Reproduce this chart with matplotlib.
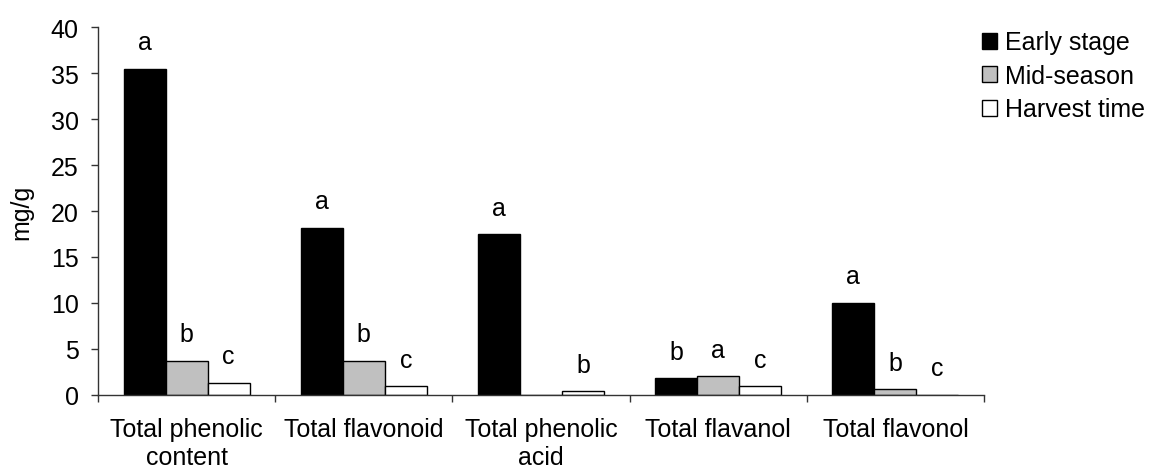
import matplotlib
matplotlib.use('Agg')
import matplotlib.pyplot as plt
from matplotlib.patches import Patch
import numpy as np

plt.rcParams['font.family'] = ['Liberation Sans', 'DejaVu Sans']

# data
categories = ['Total phenolic\ncontent', 'Total flavonoid', 'Total phenolic\nacid',
              'Total flavanol', 'Total flavonol']
series = ['Early stage', 'Mid-season', 'Harvest time']
early = [35.5, 18.2, 17.5, 1.8, 10.0]
mid = [3.7, 3.7, 0.0, 2.0, 0.6]
harvest = [1.3, 0.9, 0.4, 0.9, 0.0]
letters_early = ['a', 'a', 'a', 'b', 'a']
letters_mid = ['b', 'b', '', 'a', 'b']
letters_harvest = ['c', 'c', 'b', 'c', 'c']

colors = ['black', '#c0c0c0', 'white']
values = [early, mid, harvest]
letters = [letters_early, letters_mid, letters_harvest]

fig = plt.figure(figsize=(11.51, 4.77), dpi=100)
ax = fig.add_axes([0.0851, 0.1704, 0.7698, 0.7703])

w = 0.237
x = np.arange(len(categories)) + 0.5
for j in range(3):
    pos = x + (j - 1) * w
    ax.bar(pos, values[j], width=w, color=colors[j], edgecolor='black', linewidth=1.0)
    # significance letters above each bar
    for xi, v, lab in zip(pos, values[j], letters[j]):
        if lab:
            ax.annotate(lab, (xi, v), xytext=(0, 14), textcoords='offset points',
                        ha='center', va='baseline', fontsize=18)

ax.set_xlim(0, 5)
ax.set_ylim(0, 40)
ax.set_yticks(range(0, 41, 5))
# ticks on category boundaries, labels in the middle
ax.set_xticks(range(0, 6))
ax.set_xticklabels([])
ax.set_xticks(x, minor=True)
ax.set_xticklabels(categories, minor=True)

for s in ['top', 'right']:
    ax.spines[s].set_visible(False)
for s in ['left', 'bottom']:
    ax.spines[s].set_color('#333333')
    ax.spines[s].set_linewidth(1.0)

ax.tick_params(axis='y', direction='out', length=5, width=1.0, color='#333333',
               labelsize=18, pad=9)
ax.tick_params(axis='x', which='major', direction='out', length=5, width=1.0,
               color='#333333')
ax.tick_params(axis='x', which='minor', length=0, labelsize=18, pad=16)

ax.set_ylabel('mg/g', fontsize=18)
ax.yaxis.set_label_coords(-0.073, 0.5)

handles = [Patch(facecolor=c, edgecolor='black', linewidth=1.0) for c in colors]
fig.legend(handles, series, loc='upper left', bbox_to_anchor=(0.8532, 0.934),
           frameon=False, fontsize=18, handlelength=0.6, handleheight=0.6,
           handletextpad=0.32, labelspacing=0.38, borderpad=0, borderaxespad=0)

fig.savefig('out.png', dpi=100)
